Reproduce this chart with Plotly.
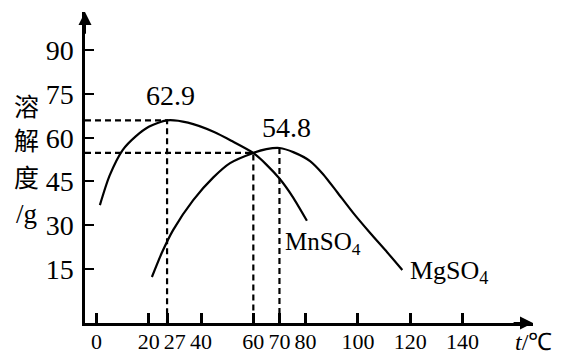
import plotly.graph_objects as go

# ---- data ----
mn_x = [1.3, 5, 10, 15, 20, 27, 35, 45, 52, 60, 65, 70, 75, 80.5]
mn_y = [36.9, 47, 55.8, 60.5, 63.8, 66, 65.2, 62, 58.8, 54.8, 50.8, 46, 39.8, 31.5]
mg_x = [21.2, 25, 29.3, 37, 44.7, 51.1, 60, 65, 70, 75.5, 81.7, 86.7, 92.1, 98.2, 104.7, 111.2, 117]
mg_y = [12.2, 20.5, 28.3, 38.6, 46.4, 51.3, 54.8, 56.1, 56.5, 55, 52, 47.5, 41.3, 34.2, 27.3, 20.7, 14.6]

mn_peak = (27, 66)
cross_pt = (60, 54.8)
mg_peak = (70, 56.5)

x_ticks = [0, 20, 27, 40, 60, 70, 80, 100, 120, 140]
x_text = ["0", "20", "\u2002\u200927", "40", "60", "70", "80", "100", "120", "140"]
y_ticks = [15, 30, 45, 60, 75, 90]

X0, X1 = -4.4, 167
Y0, Y1 = -3.6, 103.2

SERIF = "Liberation Serif, Times New Roman, serif"
CJK = "Noto Sans CJK SC"

# the page body has an 8px margin, so the figure sits at (8, 8) in the window
OFF = 8
W, H = 568 - OFF, 357 - OFF
PL, PR, PT, PB = 85 - OFF, 35, 12 - OFF, 34


def paper_x(px):  # px in window pixels
    return (px - OFF - PL) / (W - PL - PR)


def paper_y(py):
    return (H - PB - (py - OFF)) / (H - PB - PT)


fig = go.Figure()

curve = dict(color="black", width=2.2, shape="spline", smoothing=0.7)
fig.add_trace(go.Scatter(x=mn_x, y=mn_y, mode="lines", line=curve, hoverinfo="skip"))
fig.add_trace(go.Scatter(x=mg_x, y=mg_y, mode="lines", line=curve, hoverinfo="skip"))

dash = dict(color="black", width=2.2, dash="6px,4px")
fig.add_trace(go.Scatter(x=[X0, mn_peak[0], mn_peak[0]], y=[mn_peak[1], mn_peak[1], Y0],
                         mode="lines", line=dash, hoverinfo="skip"))
fig.add_trace(go.Scatter(x=[X0, cross_pt[0], cross_pt[0]], y=[cross_pt[1], cross_pt[1], Y0],
                         mode="lines", line=dash, hoverinfo="skip"))
fig.add_trace(go.Scatter(x=[mg_peak[0], mg_peak[0]], y=[mg_peak[1], Y0],
                         mode="lines", line=dash, hoverinfo="skip"))

fig.update_layout(
    width=W, height=H,
    margin=dict(l=PL, r=PR, t=PT, b=PB),
    paper_bgcolor="white", plot_bgcolor="white",
    showlegend=False,
    xaxis=dict(range=[X0, X1], tickvals=x_ticks, ticktext=x_text, tickangle=0,
               ticks="inside", ticklen=10, tickwidth=2.5, tickcolor="black",
               showgrid=False, zeroline=False, automargin=False,
               showline=True, linecolor="black", linewidth=2.5, ticklabelstandoff=-3,
               tickfont=dict(family=SERIF, size=22, color="black")),
    yaxis=dict(range=[Y0, Y1], tickvals=y_ticks, ticks="inside", ticklen=9, tickwidth=2,
               tickcolor="black", showgrid=False, zeroline=False, automargin=False,
               showline=True, linecolor="black", linewidth=2.5, ticklabelstandoff=3,
               tickfont=dict(family=SERIF, size=28, color="black")),
)

# axis arrows
fig.add_annotation(x=X1, y=Y0, ax=X1 - 8, ay=Y0, xref="x", yref="y", axref="x", ayref="y",
                   showarrow=True, arrowhead=2, arrowsize=1.3, arrowwidth=2, arrowcolor="black", text="")
fig.add_annotation(x=X0, y=Y1, ax=X0, ay=Y1 - 8, xref="x", yref="y", axref="x", ayref="y",
                   showarrow=True, arrowhead=2, arrowsize=1.3, arrowwidth=2, arrowcolor="black", text="")

# value labels
fig.add_annotation(x=28.5, y=74.5, text="62.9", showarrow=False,
                   font=dict(family=SERIF, size=28, color="black"))
fig.add_annotation(x=72.5, y=63.5, text="54.8", showarrow=False,
                   font=dict(family=SERIF, size=28, color="black"))

# compound labels
fig.add_annotation(x=71.5, y=23.8, text="MnSO<sub>4</sub>", showarrow=False, xanchor="left",
                   font=dict(family=SERIF, size=25, color="black"))
fig.add_annotation(x=119, y=13.8, text="MgSO<sub>4</sub>", showarrow=False, xanchor="left",
                   font=dict(family=SERIF, size=26, color="black"))

# y axis title (vertical characters), placed in window pixels
for ch, py in [("溶", 105), ("解", 139), ("度", 176)]:
    fig.add_annotation(x=paper_x(27), y=paper_y(py), xref="paper", yref="paper", text=ch,
                       xanchor="center", yanchor="middle",
                       showarrow=False, font=dict(family=CJK, size=25, color="black"))
fig.add_annotation(x=paper_x(27), y=paper_y(214), xref="paper", yref="paper", text="/g",
                   xanchor="center", yanchor="middle",
                   showarrow=False, font=dict(family=SERIF, size=27, color="black"))

# x axis title
fig.add_annotation(x=paper_x(533), y=paper_y(342), xref="paper", yref="paper",
                   text="<i>t</i>/℃", showarrow=False, xanchor="center", yanchor="middle",
                   font=dict(family=SERIF, size=24, color="black"))

fig.write_html("out.html")
